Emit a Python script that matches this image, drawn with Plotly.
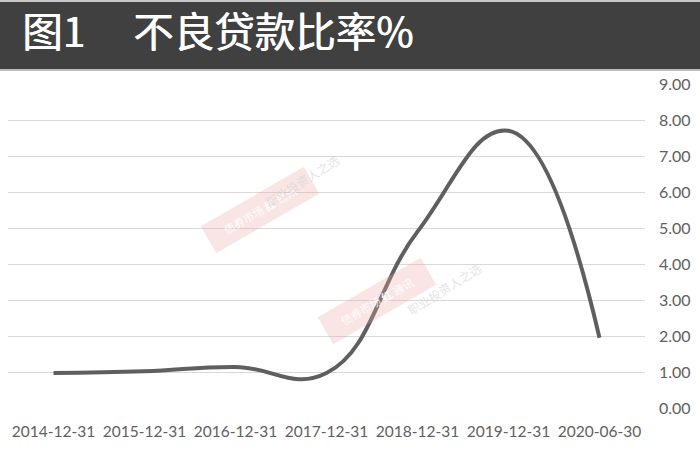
import plotly.graph_objects as go

categories = ["2014-12-31", "2015-12-31", "2016-12-31", "2017-12-31",
              "2018-12-31", "2019-12-31", "2020-06-30"]
npl_ratio = [0.97, 1.02, 1.14, 0.97, 4.9, 7.7, 1.95]
y_ticks = [0, 1, 2, 3, 4, 5, 6, 7, 8, 9]
y_tick_labels = ["%.2f" % v for v in y_ticks]
title_label = "图1"
title_text = "不良贷款比率%"

W, H = 700, 460
L, R, T, B = 8, 55, 84, 52
pw, ph = W - L - R, H - T - B


def px(x):
    return (x - L) / pw


def py(y):
    return (H - B - y) / ph


fig = go.Figure()
fig.add_trace(go.Scatter(
    x=categories, y=npl_ratio, mode="lines",
    line=dict(color="#5f5f5f", width=4, shape="spline", smoothing=1.25),
    hoverinfo="skip", showlegend=False,
))

shapes = [
    dict(type="rect", xref="paper", yref="paper", x0=px(0), x1=px(W),
         y0=py(69), y1=py(2), fillcolor="#404040", line=dict(width=0), layer="above"),
    dict(type="rect", xref="paper", yref="paper", x0=px(0), x1=px(W),
         y0=py(2), y1=py(0), fillcolor="#c8c8c8", line=dict(width=0), layer="above"),
    dict(type="rect", xref="paper", yref="paper", x0=px(0), x1=px(W),
         y0=py(71), y1=py(69), fillcolor="#bdbdbd", line=dict(width=0), layer="above"),
]

font_cjk = "Noto Sans CJK SC"
title_font = dict(family=font_cjk, size=40.5, color="white", shadow="0.7px 0px 0px white")
annotations = [
    dict(text=title_label, xref="paper", yref="paper", x=px(20), y=py(30),
         xanchor="left", yanchor="middle", showarrow=False, font=title_font),
    dict(text=title_text, xref="paper", yref="paper", x=px(131), y=py(30),
         xanchor="left", yanchor="middle", showarrow=False, font=title_font),
]

# watermarks
for cx, cy in [(200, 210), (377, 345)]:
    annotations.append(dict(
        text="　债券市场 <b>红</b> 通讯　", xref="paper", yref="paper", x=px(cx), y=py(cy),
        showarrow=False, textangle=-30, bgcolor="rgba(240,170,170,0.3)",
        font=dict(family=font_cjk, size=11, color="rgba(255,255,255,0.9)"),
        borderpad=7))
for cx, cy in [(302, 148), (487, 288)]:
    annotations.append(dict(
        text="职业投资人之选", xref="paper", yref="paper", x=px(cx), y=py(cy),
        showarrow=False, textangle=-32,
        font=dict(family=font_cjk, size=12, color="rgba(205,205,205,0.55)")))

fig.update_layout(
    width=W, height=H,
    margin=dict(l=L, r=R, t=T, b=B),
    paper_bgcolor="white", plot_bgcolor="white",
    shapes=shapes, annotations=annotations,
    xaxis=dict(type="category", range=[-0.5, 6.5], showgrid=False, showline=False,
               zeroline=False, ticks="", ticklabelstandoff=12,
               tickfont=dict(family="Lato", size=15.5, color="#606060")),
    yaxis=dict(side="right", range=[0, 9], tickvals=y_ticks, ticktext=y_tick_labels,
               showgrid=True, gridcolor="#d9d9d9", gridwidth=1, zeroline=False,
               showline=False, ticks="", ticklabelstandoff=13,
               tickfont=dict(family="Lato", size=16, color="#606060")),
)

fig.write_html("out.html", config={"displayModeBar": False},
               post_script="document.body.style.margin='0';")
